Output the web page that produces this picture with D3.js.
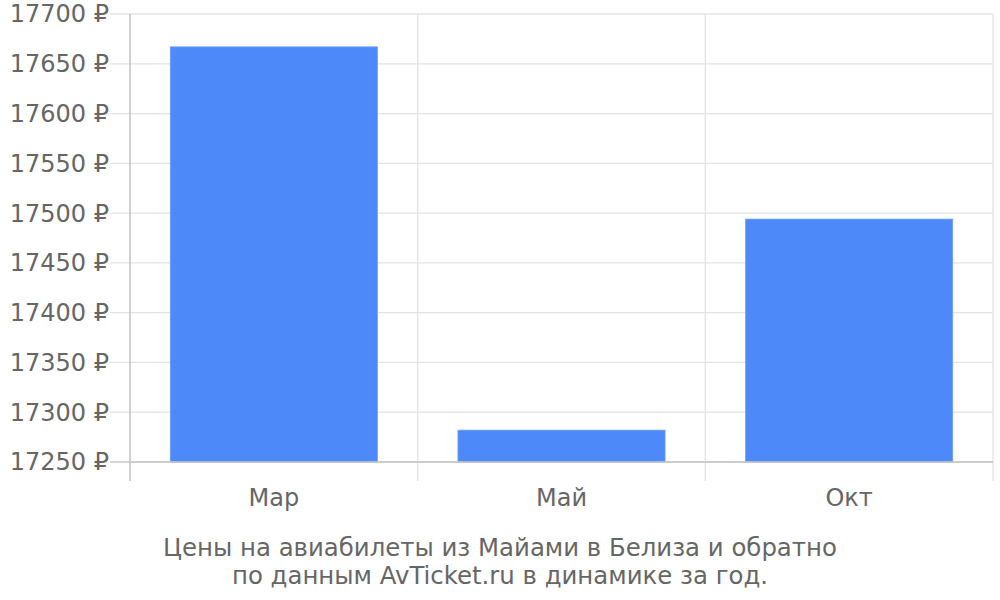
<!DOCTYPE html>
<html>
<head>
<meta charset="utf-8">
<script src="https://cdn.jsdelivr.net/npm/d3@7"></script>
<style>
  body { margin: 0; background: #fff; }
  text { font-family: "DejaVu Sans", sans-serif; fill: #666; }
</style>
</head>
<body>
<svg id="chart" width="1000" height="600"></svg>
<script>
// data
const months = ["Мар", "Май", "Окт"];
const prices = [17667, 17282, 17494];
const yTicks = [17250, 17300, 17350, 17400, 17450, 17500, 17550, 17600, 17650, 17700];
const titleLines = ["Цены на авиабилеты из Майами в Белиза и обратно", "по данным AvTicket.ru в динамике за год."];

const width = 1000, height = 600;
const margin = {top: 14, right: 7, bottom: 138, left: 130};
const plotW = width - margin.left - margin.right;
const plotH = height - margin.top - margin.bottom;

const svg = d3.select("#chart");
const g = svg.append("g").attr("transform", "translate(" + margin.left + "," + margin.top + ")");

const x = d3.scaleBand().domain(months).range([0, plotW]).paddingInner(0.28).paddingOuter(0.14);
const xCell = d3.scaleBand().domain(months).range([0, plotW]);
const y = d3.scaleLinear().domain([17250, 17700]).range([plotH, 0]);

// horizontal grid + tick stubs
g.selectAll(".hgrid")
  .data(yTicks)
  .enter()
  .append("line")
  .attr("x1", -20)
  .attr("x2", plotW)
  .attr("y1", d => y(d))
  .attr("y2", d => y(d))
  .attr("stroke", d => d === 17250 ? "#c8c8c8" : "#e3e3e3")
  .attr("stroke-width", 1.3);

// vertical grid (cell boundaries)
const vLines = months.map(m => xCell(m) + xCell.bandwidth());
g.selectAll(".vgrid")
  .data(vLines)
  .enter()
  .append("line")
  .attr("x1", d => d)
  .attr("x2", d => d)
  .attr("y1", 0)
  .attr("y2", plotH + 19)
  .attr("stroke", "#e3e3e3")
  .attr("stroke-width", 1.3);

// bars
g.selectAll(".bar")
  .data(prices)
  .enter()
  .append("rect")
  .attr("x", (d, i) => x(months[i]))
  .attr("width", x.bandwidth())
  .attr("y", d => y(d))
  .attr("height", d => plotH - y(d))
  .attr("fill", "#4d89f9")
  .attr("stroke", "#6e9ffa")
  .attr("stroke-width", 0.8);

// left axis line
g.append("line")
  .attr("x1", 0).attr("x2", 0)
  .attr("y1", 0).attr("y2", plotH + 19)
  .attr("stroke", "#b8b8b8")
  .attr("stroke-width", 1.3);

// bottom baseline on top of bars
g.append("line")
  .attr("x1", 0).attr("x2", plotW)
  .attr("y1", plotH).attr("y2", plotH)
  .attr("stroke", "#c8c8c8")
  .attr("stroke-width", 1.3);

// y labels
g.selectAll(".ylab")
  .data(yTicks)
  .enter()
  .append("text")
  .attr("x", -21)
  .attr("y", d => y(d))
  .attr("dy", "0.35em")
  .attr("text-anchor", "end")
  .attr("font-size", 24)
  .text(d => d + " ₽");

// x labels
g.selectAll(".xlab")
  .data(months)
  .enter()
  .append("text")
  .attr("x", d => xCell(d) + xCell.bandwidth() / 2)
  .attr("y", plotH + 44)
  .attr("text-anchor", "middle")
  .attr("font-size", 24)
  .text(d => d);

// caption
svg.selectAll(".title")
  .data(titleLines)
  .enter()
  .append("text")
  .attr("x", 500)
  .attr("y", (d, i) => 556 + i * 28)
  .attr("text-anchor", "middle")
  .attr("font-size", 24.4)
  .text(d => d);
</script>
</body>
</html>
